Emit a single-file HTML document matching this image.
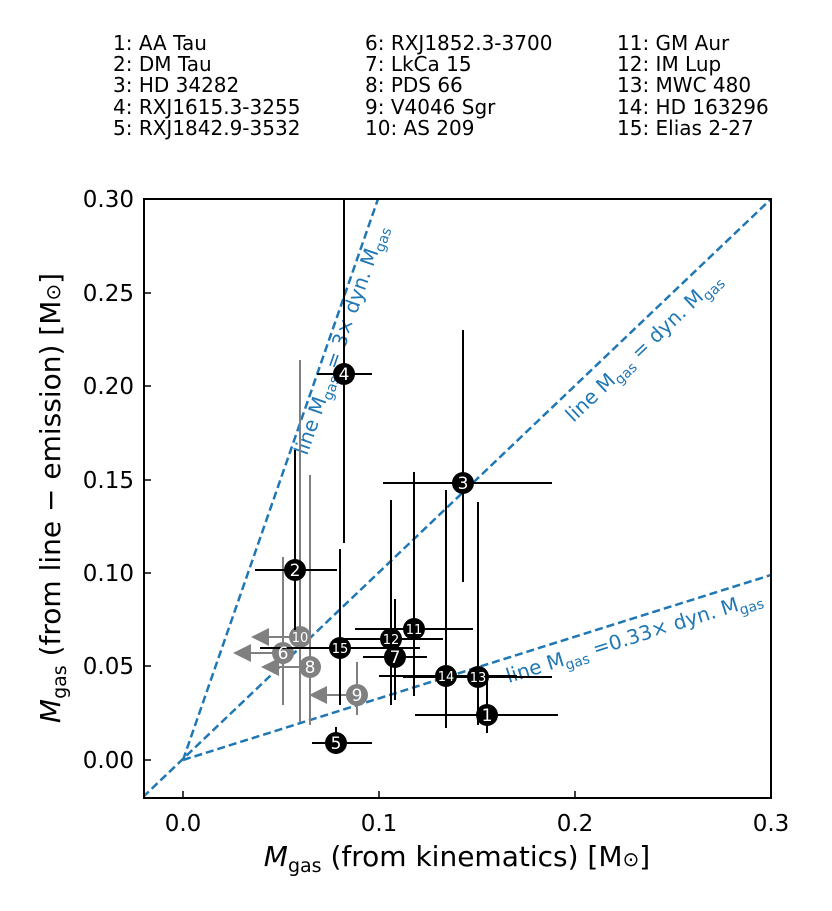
<!DOCTYPE html>
<html><head><meta charset="utf-8"><style>
html,body{margin:0;padding:0;background:#fff}
svg{display:block}
text{font-family:"DejaVu Sans","Liberation Sans",sans-serif}
</style></head><body>
<svg width="832" height="911" viewBox="0 0 832 911" xmlns="http://www.w3.org/2000/svg">
<g font-size="20" fill="#000">
<text x="113" y="50">1: AA Tau</text>
<text x="113" y="71">2: DM Tau</text>
<text x="113" y="92">3: HD 34282</text>
<text x="113" y="114">4: RXJ1615.3-3255</text>
<text x="113" y="135">5: RXJ1842.9-3532</text>
<text x="365" y="50">6: RXJ1852.3-3700</text>
<text x="365" y="71">7: LkCa 15</text>
<text x="365" y="92">8: PDS 66</text>
<text x="365" y="114">9: V4046 Sgr</text>
<text x="365" y="135">10: AS 209</text>
<text x="617" y="50">11: GM Aur</text>
<text x="617" y="71">12: IM Lup</text>
<text x="617" y="92">13: MWC 480</text>
<text x="617" y="114">14: HD 163296</text>
<text x="617" y="135">15: Elias 2-27</text>
</g>
<defs><clipPath id="c"><rect x="144" y="199" width="627" height="599"/></clipPath></defs>
<g clip-path="url(#c)" stroke="#1f77b4" stroke-width="2.5" stroke-dasharray="8,4" fill="none">
<line x1="143" y1="797" x2="771" y2="199"/>
<line x1="183" y1="760" x2="378" y2="199"/>
<line x1="183" y1="760" x2="771" y2="575"/>
</g>
<g fill="#1f77b4" font-size="20">
<text transform="translate(648,352) rotate(-43.6)" text-anchor="middle">line M<tspan font-size="14" dy="5">gas</tspan><tspan dy="-5"> = dyn. M</tspan><tspan font-size="14" dy="5">gas</tspan></text>
<text transform="translate(636,643) rotate(-17.5)" text-anchor="middle">line M<tspan font-size="14" dy="5">gas</tspan><tspan dy="-5"> =0.33× dyn. M</tspan><tspan font-size="14" dy="5">gas</tspan></text>
<text transform="translate(347,342) rotate(-70.7)" text-anchor="middle">line M<tspan font-size="14" dy="5">gas</tspan><tspan dy="-5"> = 3× dyn. M</tspan><tspan font-size="14" dy="5">gas</tspan></text>
</g>
<g stroke="#808080" stroke-width="2" fill="#808080">
<line x1="283" y1="557" x2="283" y2="705"/><line x1="283" y1="653" x2="250" y2="653"/><polygon points="233,653 251,644 251,662" stroke="none"/>
<line x1="300" y1="360" x2="300" y2="722"/><line x1="300" y1="637" x2="268" y2="637"/><polygon points="251,637 269,628 269,646" stroke="none"/>
<line x1="310" y1="475" x2="310" y2="725"/><line x1="310" y1="667" x2="278" y2="667"/><polygon points="261,667 279,658 279,676" stroke="none"/>
<line x1="357" y1="662" x2="357" y2="715"/><line x1="357" y1="695" x2="326" y2="695"/><polygon points="309,695 327,686 327,704" stroke="none"/>
<circle cx="283" cy="653" r="11" stroke="none"/><circle cx="300" cy="637" r="11" stroke="none"/><circle cx="310" cy="667" r="11" stroke="none"/><circle cx="357" cy="695" r="11" stroke="none"/>
</g>
<g stroke="#000" stroke-width="2">
<line x1="415" y1="715" x2="558" y2="715"/><line x1="487" y1="680" x2="487" y2="733"/>
<line x1="255" y1="570" x2="337" y2="570"/><line x1="295" y1="450" x2="295" y2="630"/>
<line x1="383" y1="483" x2="552" y2="483"/><line x1="463" y1="330" x2="463" y2="582"/>
<line x1="317" y1="374" x2="372" y2="374"/><line x1="344" y1="199" x2="344" y2="543"/>
<line x1="312" y1="743" x2="372" y2="743"/><line x1="336" y1="727" x2="336" y2="752"/>
<line x1="363" y1="657" x2="427" y2="657"/><line x1="395" y1="599" x2="395" y2="700"/>
<line x1="355" y1="629" x2="473" y2="629"/><line x1="414" y1="472" x2="414" y2="696"/>
<line x1="340" y1="639" x2="443" y2="639"/><line x1="391" y1="500" x2="391" y2="705"/>
<line x1="403" y1="677" x2="552" y2="677"/><line x1="478" y1="502" x2="478" y2="725"/>
<line x1="379" y1="676" x2="517" y2="676"/><line x1="446" y1="490" x2="446" y2="728"/>
<line x1="260" y1="648" x2="420" y2="648"/><line x1="340" y1="549" x2="340" y2="705"/>
</g>
<g fill="#000">
<circle cx="487" cy="715" r="11"/><circle cx="295" cy="570" r="11"/><circle cx="463" cy="483" r="11"/><circle cx="344" cy="374" r="11"/><circle cx="336" cy="743" r="11"/><circle cx="395" cy="657" r="11"/><circle cx="414" cy="629" r="11"/><circle cx="391" cy="639" r="11"/><circle cx="478" cy="677" r="11"/><circle cx="446" cy="676" r="11"/><circle cx="340" cy="648" r="11"/>
</g>
<g fill="#fff" font-size="17" text-anchor="middle">
<text x="487" y="721">1</text><text x="295" y="576">2</text><text x="463" y="489">3</text><text x="344" y="380">4</text><text x="336" y="749">5</text><text x="283" y="659">6</text><text x="395" y="663">7</text><text x="310" y="673">8</text><text x="357" y="701">9</text>
</g>
<g fill="#fff" font-size="13" text-anchor="middle">
<text x="300" y="642">10</text><text x="414" y="634">11</text><text x="391" y="644">12</text><text x="478" y="682">13</text><text x="446" y="681">14</text><text x="340" y="653">15</text>
</g>
<rect x="144" y="199" width="627" height="599" fill="none" stroke="#000" stroke-width="2"/>
<g stroke="#000" stroke-width="1.5">
<line x1="183" y1="798" x2="183" y2="791"/><line x1="379" y1="798" x2="379" y2="791"/><line x1="575" y1="798" x2="575" y2="791"/>
<line x1="144" y1="760" x2="151" y2="760"/><line x1="144" y1="666" x2="151" y2="666"/><line x1="144" y1="573" x2="151" y2="573"/><line x1="144" y1="480" x2="151" y2="480"/><line x1="144" y1="386" x2="151" y2="386"/><line x1="144" y1="293" x2="151" y2="293"/><line x1="144" y1="199" x2="151" y2="199"/>
</g>
<g font-size="23" fill="#000">
<g text-anchor="middle">
<text x="183" y="831">0.0</text><text x="379" y="831">0.1</text><text x="575" y="831">0.2</text><text x="771" y="831">0.3</text>
</g>
<g text-anchor="end">
<text x="134" y="768">0.00</text><text x="134" y="674">0.05</text><text x="134" y="581">0.10</text><text x="134" y="488">0.15</text><text x="134" y="394">0.20</text><text x="134" y="301">0.25</text><text x="134" y="207">0.30</text>
</g>
</g>
<text x="457" y="866" font-size="28" text-anchor="middle"><tspan font-style="italic">M</tspan><tspan font-size="19" dy="6">gas</tspan><tspan dy="-6"> (from kinematics) [M</tspan><tspan font-size="20">⊙</tspan>]</text>
<text transform="translate(60,498) rotate(-90)" font-size="28" text-anchor="middle"><tspan font-style="italic">M</tspan><tspan font-size="19" dy="6">gas</tspan><tspan dy="-6"> (from line − emission) [M</tspan><tspan font-size="20">⊙</tspan>]</text>
</svg>
</body></html>
